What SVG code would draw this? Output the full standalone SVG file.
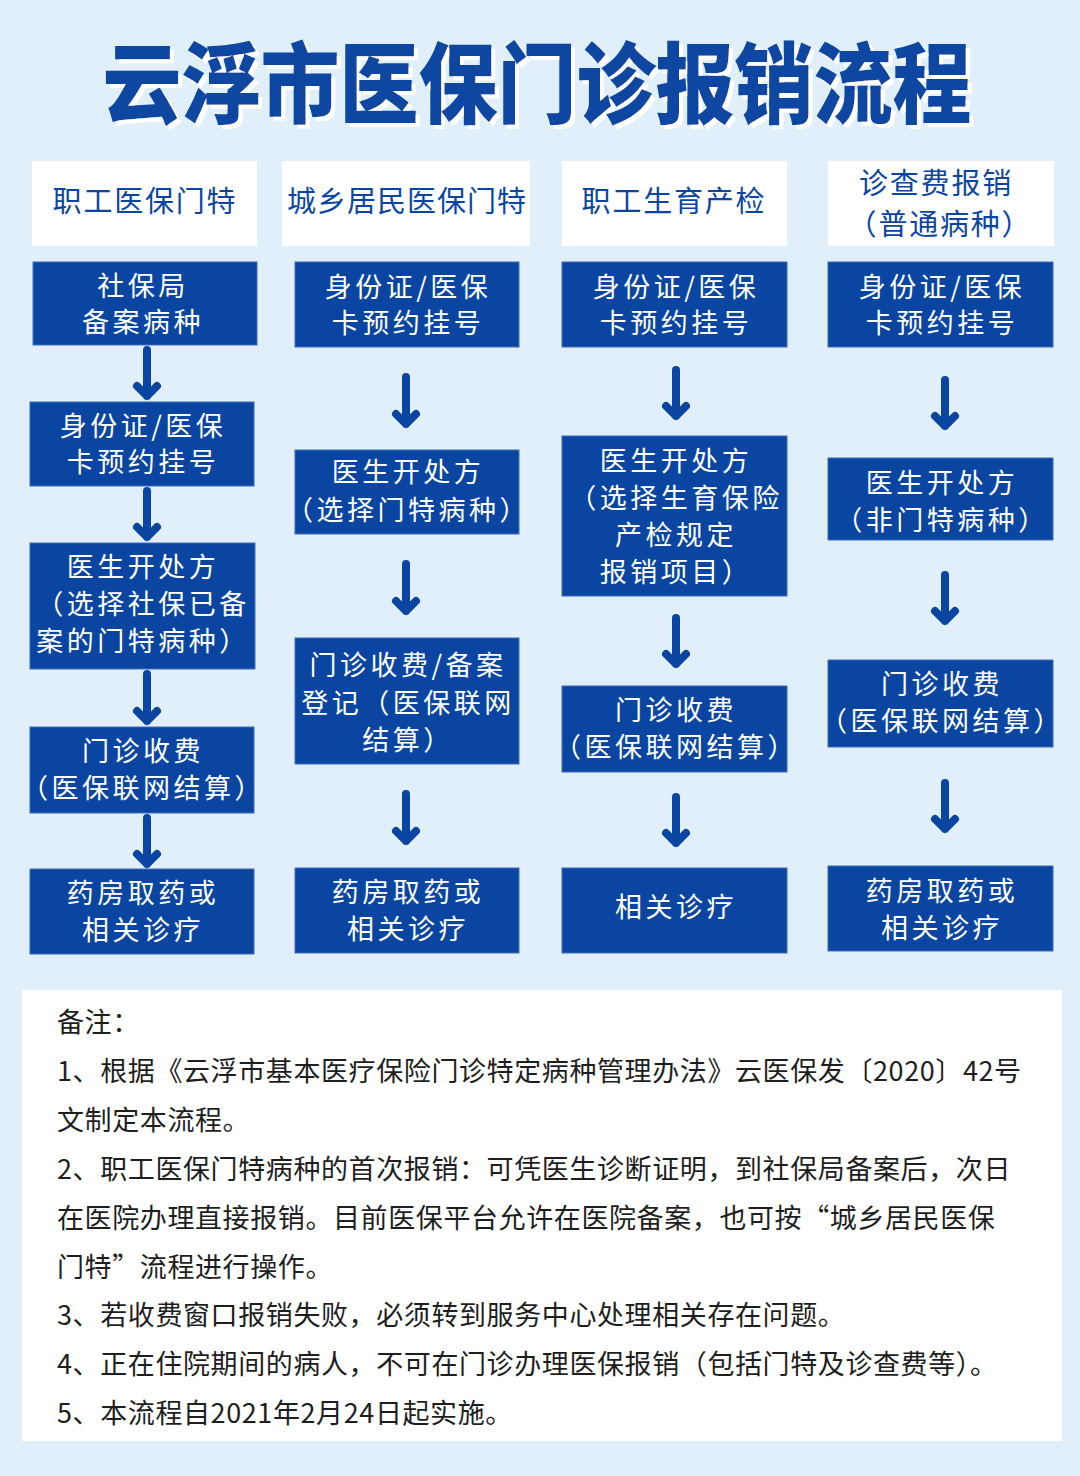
<svg xmlns="http://www.w3.org/2000/svg" width="1080" height="1476" viewBox="0 0 1080 1476">
<style>
.t{font-family:"Noto Sans CJK SC","Noto Sans",sans-serif;}
.title{font-size:88px;font-weight:900;fill:#0a46a1;}
.hd rect{fill:#ffffff;}
.hd text{font-size:29px;fill:#0a46a1;text-anchor:middle;letter-spacing:1.8px;}
.bx rect{fill:#0a46a1;stroke:#3d6fb8;stroke-width:1;}
.bx text{font-size:27px;fill:#ffffff;text-anchor:middle;letter-spacing:3.5px;}
.arr path{fill:none;stroke:#0a46a1;stroke-width:8;stroke-linecap:round;stroke-linejoin:round;}
.note{font-size:27px;fill:#1e1e1e;letter-spacing:0.6px;}
</style>
<defs>
<filter id="whiteShadow" x="-5%" y="-20%" width="110%" height="140%">
<feDropShadow dx="4" dy="4" stdDeviation="0" flood-color="#ffffff" flood-opacity="1"/>
</filter>
</defs>
<rect x="0" y="0" width="1080" height="1476" fill="#e1effb"/>

<g id="title">
<text class="t title" x="537" y="116" text-anchor="middle" textLength="869" lengthAdjust="spacingAndGlyphs" filter="url(#whiteShadow)">云浮市医保门诊报销流程</text>
</g>

<!-- headers -->
<g id="h1" class="hd t"><rect x="32" y="161" width="225" height="85"/><text x="145" y="212">职工医保门特</text></g>
<g id="h2" class="hd t"><rect x="282" y="161" width="248" height="85"/><text x="407" y="212" style="letter-spacing:1px">城乡居民医保门特</text></g>
<g id="h3" class="hd t"><rect x="562" y="161" width="225" height="85"/><text x="674" y="212">职工生育产检</text></g>
<g id="h4" class="hd t"><rect x="828" y="161" width="226" height="85"/><text x="936" y="194">诊查费报销</text><text x="940" y="235">（普通病种）</text></g>

<!-- column 1 -->
<g id="c1b1" class="bx t"><rect x="33" y="262" width="224" height="83"/><text x="143" y="296">社保局</text><text x="143" y="332">备案病种</text></g>
<g id="c1b2" class="bx t"><rect x="30" y="402" width="224" height="84"/><text x="143" y="436">身份证/医保</text><text x="143" y="472">卡预约挂号</text></g>
<g id="c1b3" class="bx t"><rect x="30" y="543" width="225" height="126"/><text x="143" y="577">医生开处方</text><text x="143" y="614">（选择社保已备</text><text x="143" y="651">案的门特病种）</text></g>
<g id="c1b4" class="bx t"><rect x="30" y="727" width="224" height="86"/><text x="143" y="761">门诊收费</text><text x="143" y="798">（医保联网结算）</text></g>
<g id="c1b5" class="bx t"><rect x="30" y="869" width="224" height="85"/><text x="143" y="903">药房取药或</text><text x="143" y="940">相关诊疗</text></g>

<!-- column 2 -->
<g id="c2b1" class="bx t"><rect x="295" y="262" width="224" height="85"/><text x="408" y="297">身份证/医保</text><text x="408" y="333">卡预约挂号</text></g>
<g id="c2b2" class="bx t"><rect x="295" y="450" width="224" height="84"/><text x="408" y="482">医生开处方</text><text x="408" y="520">（选择门特病种）</text></g>
<g id="c2b3" class="bx t"><rect x="295" y="638" width="224" height="126"/><text x="408" y="675">门诊收费/备案</text><text x="408" y="713">登记（医保联网</text><text x="408" y="750">结算）</text></g>
<g id="c2b4" class="bx t"><rect x="295" y="868" width="224" height="85"/><text x="408" y="902">药房取药或</text><text x="408" y="939">相关诊疗</text></g>

<!-- column 3 -->
<g id="c3b1" class="bx t"><rect x="562" y="262" width="225" height="85"/><text x="676" y="297">身份证/医保</text><text x="676" y="333">卡预约挂号</text></g>
<g id="c3b2" class="bx t"><rect x="562" y="436" width="225" height="160"/><text x="676" y="471">医生开处方</text><text x="676" y="508">（选择生育保险</text><text x="676" y="545">产检规定</text><text x="676" y="582">报销项目）</text></g>
<g id="c3b3" class="bx t"><rect x="562" y="686" width="225" height="86"/><text x="676" y="720">门诊收费</text><text x="676" y="757">（医保联网结算）</text></g>
<g id="c3b4" class="bx t"><rect x="562" y="868" width="225" height="85"/><text x="676" y="917">相关诊疗</text></g>

<!-- column 4 -->
<g id="c4b1" class="bx t"><rect x="828" y="262" width="225" height="85"/><text x="942" y="297">身份证/医保</text><text x="942" y="333">卡预约挂号</text></g>
<g id="c4b2" class="bx t"><rect x="828" y="458" width="225" height="82"/><text x="942" y="493">医生开处方</text><text x="942" y="530">（非门特病种）</text></g>
<g id="c4b3" class="bx t"><rect x="828" y="660" width="225" height="87"/><text x="942" y="694">门诊收费</text><text x="942" y="731">（医保联网结算）</text></g>
<g id="c4b4" class="bx t"><rect x="828" y="866" width="225" height="85"/><text x="942" y="901">药房取药或</text><text x="942" y="938">相关诊疗</text></g>

<!-- connectors -->
<g id="connectors" class="arr">
<path d="M147,350 V396 M137,386 L147,396 L157,386"/>
<path d="M147,491 V537 M137,527 L147,537 L157,527"/>
<path d="M147,674 V721 M137,711 L147,721 L157,711"/>
<path d="M147,818 V864 M137,854 L147,864 L157,854"/>
<path d="M406,377 V424 M396,414 L406,424 L416,414"/>
<path d="M406,564 V611 M396,601 L406,611 L416,601"/>
<path d="M406,794 V841 M396,831 L406,841 L416,831"/>
<path d="M676,370 V416 M666,406 L676,416 L686,406"/>
<path d="M676,618 V664 M666,654 L676,664 L686,654"/>
<path d="M676,797 V843 M666,833 L676,843 L686,833"/>
<path d="M945,380 V426 M935,416 L945,426 L955,416"/>
<path d="M945,575 V621 M935,611 L945,621 L955,611"/>
<path d="M945,783 V829 M935,819 L945,829 L955,819"/>
</g>

<!-- notes -->
<g id="notes">
<rect x="22" y="990" width="1040" height="451" fill="#ffffff"/>
<text class="t note" x="57" y="1032">备注：</text>
<text class="t note" x="57" y="1081">1、根据《云浮市基本医疗保险门诊特定病种管理办法》云医保发〔2020〕42号</text>
<text class="t note" x="57" y="1130">文制定本流程。</text>
<text class="t note" x="57" y="1179">2、职工医保门特病种的首次报销：可凭医生诊断证明，到社保局备案后，次日</text>
<text class="t note" x="57" y="1228">在医院办理直接报销。目前医保平台允许在医院备案，也可按“城乡居民医保</text>
<text class="t note" x="57" y="1277">门特”流程进行操作。</text>
<text class="t note" x="57" y="1325">3、若收费窗口报销失败，必须转到服务中心处理相关存在问题。</text>
<text class="t note" x="57" y="1374">4、正在住院期间的病人，不可在门诊办理医保报销（包括门特及诊查费等）。</text>
<text class="t note" x="57" y="1423">5、本流程自2021年2月24日起实施。</text>
</g>
</svg>
